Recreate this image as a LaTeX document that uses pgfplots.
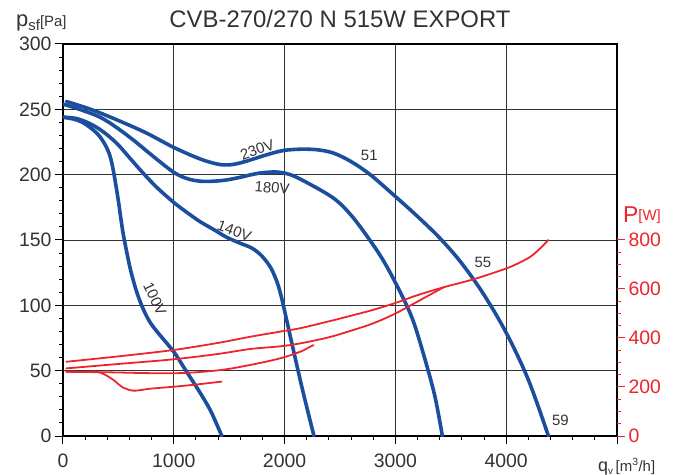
\documentclass[border=0pt]{standalone}
\usepackage{pgfplots}
\pgfplotsset{compat=1.18}
\usepackage{fontspec}
\setmainfont{Liberation Sans}
\definecolor{fanblue}{RGB}{28,78,158}
\definecolor{pwred}{RGB}{238,36,44}
\definecolor{txt}{RGB}{51,51,51}
\begin{document}
\begin{tikzpicture}
\begin{axis}[name=ax, scale only axis, width=554bp, height=392bp,
  xmin=0, xmax=5000, ymin=0, ymax=300,
  xtick={0,1000,2000,3000,4000,5000}, xticklabels={0,1000,2000,3000,4000,},
  minor xtick={200,400,...,4800},
  ytick={0,50,...,300}, minor ytick={10,20,...,290},
  xtick pos=bottom, ytick pos=left, tick align=outside,
  major tick length=8bp, minor tick length=4bp,
  grid=major, major grid style={draw=black!80, line width=0.8bp},
  axis line style={black, line width=1.2bp},
  tick style={black, line width=1bp},
  tick label style={font=\fontsize{19.5}{20}\selectfont, text=txt},
  xticklabel style={yshift=-6bp},
  /pgf/number format/assume math mode=true,
  /pgf/number format/set thousands separator={},
  every axis plot/.append style={line join=round, line cap=round},
]
% 230V
\addplot[fanblue, line width=3.6bp, smooth, tension=0.55] coordinates {
(30,256) (250,250) (485,242) (750,232) (996,221) (1238,212) (1400,208) (1500,207.5) (1600,209) (1700,211.5) (1850,215.5) (1990,218.5) (2150,219.5) (2300,219) (2442,216.5) (2600,210) (2773,200) (2984,184.5) (3200,168) (3406,151) (3600,132) (3800,108) (4000,79) (4200,43) (4381,0)};
% 180V
\addplot[fanblue, line width=3.6bp, smooth, tension=0.55] coordinates {
(0,254) (150,250) (334,244) (485,236) (635,226.5) (800,215) (996,202) (1120,197) (1238,195) (1360,195) (1479,196) (1600,198) (1700,200) (1800,201.5) (1930,202) (2051,200) (2200,194) (2442,182) (2600,169) (2760,151) (2900,133) (3050,109) (3165,87) (3286,53) (3360,29) (3424,0)};
% 140V
\addplot[fanblue, line width=3.6bp, smooth, tension=0.55] coordinates {
(0,244) (120,243) (244,239) (360,233) (485,224) (600,213) (725,201) (850,190) (996,179) (1120,171) (1238,164) (1360,158) (1479,152) (1600,147.5) (1700,144) (1780,139) (1850,132) (1900,124.5) (1960,110) (2060,73) (2160,36) (2265,0)};
% 100V
\addplot[fanblue, line width=3.6bp, smooth, tension=0.55] coordinates {
(0,244) (120,242) (214,238) (334,229) (425,214) (485,188) (537,158) (570,143) (610,127) (666,110) (725,97) (786,87) (861,78.6) (937,71) (1012,63) (1087,53) (1163,43) (1238,33) (1328,20) (1403,6) (1433,0)};
\node[font=\fontsize{15}{15}\selectfont, text=txt, rotate=20] at (axis cs:1753,219) {230V};
\node[font=\fontsize{15}{15}\selectfont, text=txt, rotate=-5] at (axis cs:1888,190) {180V};
\node[font=\fontsize{15}{15}\selectfont, text=txt, rotate=-20] at (axis cs:1546,157) {140V};
\node[font=\fontsize{15}{15}\selectfont, text=txt, rotate=-65] at (axis cs:830,105) {100V};
\node[font=\fontsize{15}{15}\selectfont, text=txt] at (axis cs:2764,215) {51};
\node[font=\fontsize{15}{15}\selectfont, text=txt] at (axis cs:3790,133) {55};
\node[font=\fontsize{15}{15}\selectfont, text=txt] at (axis cs:4490,12) {59};
\end{axis}
\begin{axis}[scale only axis, width=554bp, height=392bp,
  xmin=0, xmax=5000, ymin=0, ymax=1600,
  axis x line=none, axis y line*=right,
  ytick={0,200,...,800}, minor ytick={50,100,150,250,300,350,450,500,550,650,700,750},
  tick align=outside, major tick length=8bp, minor tick length=4bp,
  axis line style={draw=none},
  tick style={pwred, line width=1bp},
  yticklabel style={font=\fontsize{19.5}{20}\selectfont, text=pwred},
  /pgf/number format/assume math mode=true,
  every axis plot/.append style={line join=round, line cap=round},
]
\addplot[pwred, line width=1.8bp, smooth, tension=0.55] coordinates {
(30,303) (500,325) (996,351) (1400,380) (1689,405) (1960,426) (2141,440) (2400,468) (2600,491) (2800,515) (3000,543) (3200,575) (3435,607) (3707,640) (3977,680) (4100,703) (4219,732) (4300,763) (4381,800)};
\addplot[pwred, line width=1.8bp, smooth, tension=0.55] coordinates {
(30,276) (500,294) (996,313) (1400,335) (1689,355) (1960,366) (2141,378) (2400,403) (2600,430) (2800,460) (3000,500) (3225,555) (3435,607)};
\addplot[pwred, line width=1.8bp, smooth, tension=0.55] coordinates {
(30,262) (400,260) (996,256) (1400,268) (1689,290) (1960,317) (2141,344) (2220,362) (2261,371)};
\addplot[pwred, line width=1.8bp, smooth, tension=0.55] coordinates {
(30,262) (200,262) (334,259) (455,229) (530,201) (635,185) (786,193) (996,201) (1200,210) (1430,222)};
\end{axis}
\node[anchor=base, font=\fontsize{24}{24}\selectfont, text=txt] at ([yshift=16bp]ax.north) {CVB-270/270 N 515W EXPORT};
\node[anchor=base west, inner sep=0pt, text=txt] at ([shift={(-47bp,17bp)}]ax.north west) {\fontsize{22}{22}\selectfont p\fontsize{15}{15}\selectfont\raisebox{-4bp}{sf}[Pa]};
\node[anchor=base west, inner sep=0pt, text=pwred] at ([shift={(6bp,-178bp)}]ax.north east) {\fontsize{23}{23}\selectfont P\fontsize{15}{15}\selectfont\raisebox{2bp}{[W]}};
\node[anchor=base west, inner sep=0pt, text=txt] at ([shift={(-19bp,-35bp)}]ax.south east) {\fontsize{18}{18}\selectfont q\fontsize{10}{10}\selectfont\raisebox{-3bp}{v}\fontsize{15}{15}\selectfont\,[m\textsuperscript{3}/h]};
\pgfresetboundingbox
\path ([shift={(-63bp,-39bp)}]ax.south west) rectangle ([shift={(59bp,44bp)}]ax.north east);
\end{tikzpicture}
\end{document}
